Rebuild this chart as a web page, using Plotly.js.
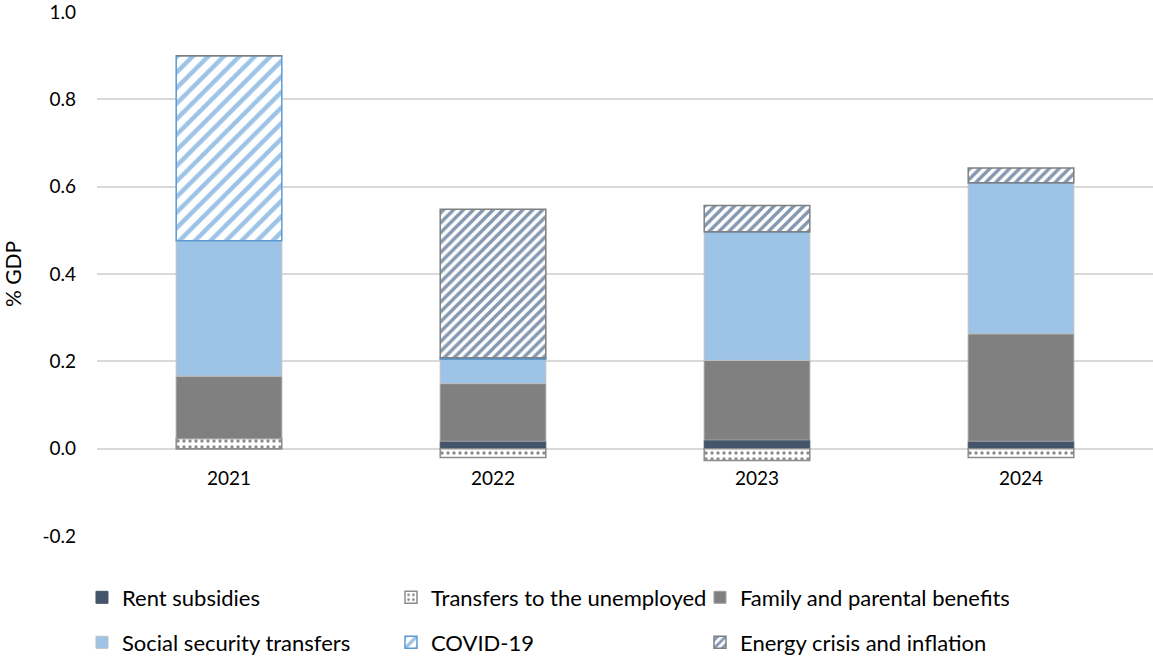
<!DOCTYPE html>
<html>
<head>
<meta charset="utf-8">
<script src="https://cdn.plot.ly/plotly-3.0.1.min.js"></script>
<style>html,body{margin:0;padding:0;background:#fff;}#chart{width:1153px;height:657px;}</style>
</head>
<body>
<div id="chart"></div>
<script>
const years = ["2021", "2022", "2023", "2024"];
const rentSubsidies = [0, 0.017, 0.020, 0.017];
const transfersUnemployed = [0.023, -0.020, -0.027, -0.020];
const familyBenefits = [0.143, 0.132, 0.182, 0.246];
const socialSecurity = [0.310, 0.056, 0.295, 0.346];
const covid19 = [0.424, 0.003, 0, 0];
const energyCrisis = [0, 0.340, 0.060, 0.034];
const yTicks = [-0.2, 0, 0.2, 0.4, 0.6, 0.8, 1.0];
const yTickLabels = ["-0.2", "0.0", "0.2", "0.4", "0.6", "0.8", "1.0"];

const FONT = "Lato, 'Liberation Sans', sans-serif";
const fsTick = 19;
const fsLegend = 22;

const traces = [
  {name: "Rent subsidies", y: rentSubsidies, legend: "legend",
   marker: {color: "#44546A", line: {color: "#44546A", width: 1}}},
  {name: "Transfers to the unemployed", y: transfersUnemployed, legend: "legend",
   marker: {color: "#ffffff", line: {color: "#8C8C8C", width: 1.5},
            pattern: {shape: ".", fgcolor: "#8C8C8C", bgcolor: "#ffffff", size: 6, solidity: 0.25}}},
  {name: "Family and parental benefits", y: familyBenefits, legend: "legend",
   marker: {color: "#808080", line: {color: "#A0A0A0", width: 1}}},
  {name: "Social security transfers", y: socialSecurity, legend: "legend2",
   marker: {color: "#9DC3E6", line: {color: "#BFBFBF", width: 1}}},
  {name: "COVID-19", y: covid19, legend: "legend2",
   marker: {color: "#ffffff", line: {color: "#5B9BD5", width: 1.5},
            pattern: {shape: "/", fgcolor: "#9DC3E6", bgcolor: "#ffffff", size: 11, solidity: 0.4}}},
  {name: "Energy crisis and inflation", y: energyCrisis, legend: "legend2",
   marker: {color: "#ffffff", line: {color: "#7F7F7F", width: 1.5},
            pattern: {shape: "/", fgcolor: "#8497B0", bgcolor: "#ffffff", size: 7, solidity: 0.48}}}
].map(t => Object.assign({type: "bar", x: years, hoverinfo: "x+y+name"}, t));

const legendCommon = {
  orientation: "h", xref: "container", yref: "container", xanchor: "left", yanchor: "top",
  x: 0.0711, entrywidth: 264, entrywidthmode: "pixels", traceorder: "normal",
  font: {family: FONT, size: fsLegend, color: "#000"}, bgcolor: "rgba(0,0,0,0)"
};

const layout = {
  width: 1153, height: 657,
  margin: {l: 97, r: 0, t: 12, b: 121, autoexpand: false},
  paper_bgcolor: "#ffffff", plot_bgcolor: "#ffffff",
  font: {family: FONT, size: fsTick, color: "#000000"},
  barmode: "relative",
  bargap: 0.6,
  showlegend: true,
  xaxis: {
    type: "category", anchor: "free", position: 0.2/1.2,
    showgrid: false, showline: false, zeroline: false, ticks: "",
    ticklabelstandoff: 16, automargin: false,
    tickfont: {family: FONT, size: fsTick, color: "#000"}
  },
  yaxis: {
    range: [-0.2, 1.0], tickvals: yTicks, ticktext: yTickLabels,
    showgrid: true, gridcolor: "#D9D9D9", gridwidth: 1.5,
    zeroline: true, zerolinecolor: "#D9D9D9", zerolinewidth: 1.5,
    showline: false, ticks: "", ticklabelstandoff: 20, ticklabeloverflow: "allow",
    tickfont: {family: FONT, size: fsTick, color: "#000"},
    title: {text: "% GDP", standoff: 20, font: {family: FONT, size: 21, color: "#000"}},
    automargin: false
  },
  legend: Object.assign({}, legendCommon, {y: 0.1225}),
  legend2: Object.assign({}, legendCommon, {y: 0.054})
};

Plotly.newPlot("chart", traces, layout, {displayModeBar: false, responsive: false});
</script>
</body>
</html>
